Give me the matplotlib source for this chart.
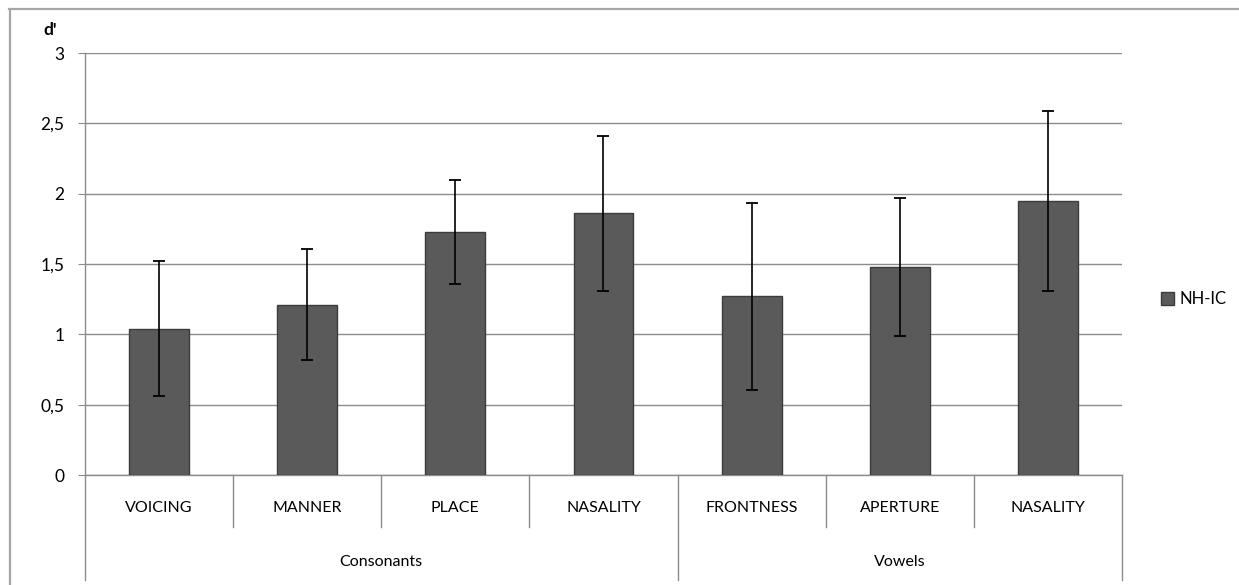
import matplotlib
matplotlib.use("Agg")
import matplotlib.pyplot as plt
from matplotlib.lines import Line2D
from matplotlib.patches import Patch

# Data
categories = ["VOICING", "MANNER", "PLACE", "NASALITY",
              "FRONTNESS", "APERTURE", "NASALITY"]
groups = ["Consonants", "Vowels"]
group_sizes = [4, 3]
d_prime = [1.04, 1.21, 1.73, 1.86, 1.27, 1.48, 1.95]
err = [0.48, 0.395, 0.37, 0.55, 0.665, 0.49, 0.64]
y_ticks = [0, 0.5, 1, 1.5, 2, 2.5, 3]
y_tick_labels = ["0", "0,5", "1", "1,5", "2", "2,5", "3"]
series_name = "NH-IC"

plt.rcParams['font.family'] = ['Lato', 'DejaVu Sans']

W, H = 1239, 585
fig = plt.figure(figsize=(W / 100, H / 100), dpi=100)
ax = fig.add_axes([85 / W, 1 - 475 / H, 1037 / W, 422 / H])

grid_col = "#8c8c8c"
bar_col = "#5a5a5a"
x = list(range(len(categories)))

# outer chart frame (only top and left visible in the crop)
fig.add_artist(Line2D([9 / W, 1], [1 - 8.5 / H, 1 - 8.5 / H], color="#a6a6a6", lw=1.6))
fig.add_artist(Line2D([9.5 / W, 9.5 / W], [0, 1 - 8.5 / H], color="#a6a6a6", lw=1.6))

ax.bar(x, d_prime, width=0.405, color=bar_col, edgecolor="#3c3c3c",
       linewidth=1.0, zorder=3)
ax.errorbar(x, d_prime, yerr=err, fmt="none", ecolor="black",
            elinewidth=1.2, capsize=4.5, capthick=1.3, zorder=4)

ax.set_xlim(-0.5, len(categories) - 0.5)
ax.set_ylim(0, 3)
ax.set_yticks(y_ticks)
ax.set_yticklabels(y_tick_labels, fontsize=12.5)
ax.yaxis.grid(True, color=grid_col, linewidth=1.0, zorder=0)
ax.set_axisbelow(True)
ax.tick_params(axis="y", length=5, color=grid_col, pad=10)
ax.set_xticks([])

for s in ["top", "right", "bottom"]:
    ax.spines[s].set_visible(False)
ax.spines["left"].set_color(grid_col)
ax.spines["left"].set_linewidth(1.0)

# category axis: inner separators and group separators
trans = ax.get_xaxis_transform()
ax.plot([-0.5, len(categories) - 0.5], [0, 0], color=grid_col, lw=1.0,
        transform=trans, clip_on=False, zorder=2)
bounds = [-0.5]
for n in group_sizes:
    bounds.append(bounds[-1] + n)
for i in range(len(categories) + 1):
    b = i - 0.5
    if b in bounds:
        if b == -0.5:
            continue
        ax.plot([b, b], [0, -0.249], color=grid_col, lw=1.0,
                transform=trans, clip_on=False)
    else:
        ax.plot([b, b], [0, -0.123], color=grid_col, lw=1.0,
                transform=trans, clip_on=False)
ax.spines["left"].set_bounds(0, 3)
ax.plot([-0.5, -0.5], [0, -0.249], color=grid_col, lw=1.0,
        transform=trans, clip_on=False)

for xi, lab in zip(x, categories):
    ax.text(xi, -0.078, lab, transform=trans, ha="center", va="center",
            fontsize=11.5)
for g, lo, hi in zip(groups, bounds[:-1], bounds[1:]):
    ax.text((lo + hi) / 2, -0.206, g, transform=trans, ha="center",
            va="center", fontsize=11.5)

# axis title
fig.text(43 / W, 1 - 30 / H, "d'", fontsize=12.5, fontweight="bold",
         ha="left", va="center")

# legend
leg = fig.legend(handles=[Patch(facecolor=bar_col, edgecolor="#3c3c3c",
                                label=series_name)],
                 loc="center left", bbox_to_anchor=(1146 / W, 1 - 299 / H),
                 frameon=False, fontsize=12, handlelength=0.8,
                 handleheight=0.8, handletextpad=0.3)

fig.savefig("out.png", dpi=100)
